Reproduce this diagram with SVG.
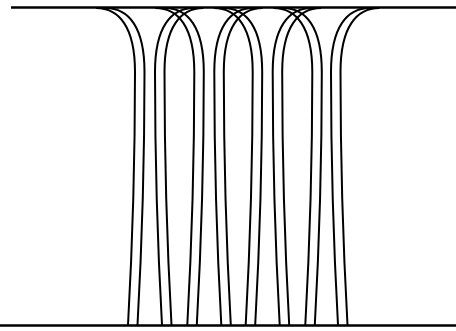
<svg xmlns="http://www.w3.org/2000/svg" xmlns:xlink="http://www.w3.org/1999/xlink" width="456" height="331" viewBox="0 0 456 331">
<style>
.ln{fill:none;stroke:#000;stroke-width:2}
.bar{fill:none;stroke:#000;stroke-width:2.4}
</style>
<defs>
<path id="L" class="ln" d="M -7 325 Q 0 200 0 72 C 0 27 -16 8 -39 8"/>
<path id="R" class="ln" d="M 7 325 Q 0 200 0 72 C 0 27 16 8 39 8"/>
</defs>
<rect width="456" height="331" fill="#fff"/>
<g id="curves">
<use xlink:href="#L" x="135"/>
<use xlink:href="#L" x="144.5"/>
<use xlink:href="#R" x="155"/>
<use xlink:href="#R" x="164.5"/>
<use xlink:href="#L" x="194.3"/>
<use xlink:href="#L" x="203.8"/>
<use xlink:href="#R" x="214.3"/>
<use xlink:href="#R" x="223.8"/>
<use xlink:href="#L" x="252.7"/>
<use xlink:href="#L" x="262.2"/>
<use xlink:href="#R" x="272.7"/>
<use xlink:href="#R" x="282.2"/>
<use xlink:href="#L" x="312.3"/>
<use xlink:href="#L" x="321.8"/>
<use xlink:href="#R" x="331"/>
<use xlink:href="#R" x="340.5"/>
</g>
<line class="bar" x1="11" y1="7.5" x2="456" y2="7.5"/>
<line class="bar" x1="0" y1="325.5" x2="456" y2="325.5"/>
</svg>
